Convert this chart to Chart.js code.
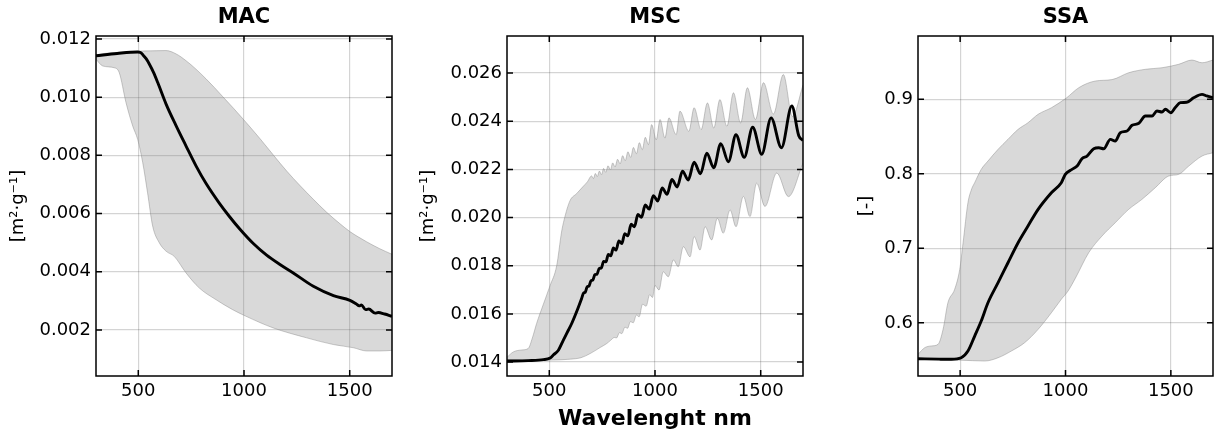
<!DOCTYPE html>
<html>
<head>
<meta charset="utf-8">
<script src="https://cdn.jsdelivr.net/npm/chart.js@4.4.0/dist/chart.umd.min.js"></script>
<style>
    html, body { margin: 0; padding: 0; background: #fff; }
    #wrap { position: relative; width: 1222px; height: 434px; overflow: hidden; }
    canvas { position: absolute; top: 0; }
</style>
</head>
<body>
<div id="wrap">
    <canvas id="mac"></canvas>
    <canvas id="msc"></canvas>
    <canvas id="ssa"></canvas>
</div>
<script>
const xTicks = [500, 1000, 1500];

// MAC
const macYTicks = [0.002, 0.004, 0.006, 0.008, 0.010, 0.012];
const macMeanWl = [300, 400, 497, 510, 521, 537, 552, 572, 592, 631, 678, 726, 773, 820, 883, 931, 981, 1044, 1107, 1170, 1233, 1328, 1423, 1501, 1530, 1545, 1555, 1575, 1590, 1620, 1635, 1665, 1700];
const macMean = [0.01142, 0.0115, 0.01155, 0.01153, 0.01146, 0.01132, 0.01114, 0.01085, 0.0105, 0.00977, 0.00903, 0.00832, 0.00764, 0.00704, 0.00636, 0.0059, 0.00546, 0.00497, 0.00457, 0.00425, 0.00396, 0.0035, 0.00318, 0.00302, 0.0029, 0.00283, 0.00286, 0.0027, 0.00272, 0.00258, 0.0026, 0.00255, 0.00247];
const macUpWl = [300, 340, 400, 460, 500, 560, 631, 680, 726, 773, 820, 860, 899, 950, 1010, 1076, 1140, 1202, 1265, 1328, 1390, 1454, 1501, 1540, 1580, 1640, 1700];
const macUp = [0.01145, 0.0115, 0.01153, 0.01156, 0.01158, 0.01159, 0.0116, 0.01148, 0.01125, 0.01096, 0.01063, 0.01033, 0.01002, 0.00962, 0.00913, 0.00857, 0.008, 0.00746, 0.00696, 0.00649, 0.00605, 0.00565, 0.00538, 0.0052, 0.00503, 0.0048, 0.0046];
const macLowWl = [300, 332, 386, 410, 442, 474, 497, 521, 544, 568, 599, 631, 670, 726, 789, 868, 946, 1010, 1139, 1297, 1423, 1518, 1580, 1643, 1700];
const macLow = [0.0113, 0.01107, 0.01101, 0.01084, 0.00981, 0.009, 0.00855, 0.00775, 0.00671, 0.00557, 0.005, 0.00471, 0.00453, 0.00396, 0.00344, 0.00304, 0.0027, 0.00247, 0.00207, 0.00173, 0.0015, 0.00139, 0.00128, 0.00128, 0.0013];

// MSC
const mscYTicks = [0.014, 0.016, 0.018, 0.020, 0.022, 0.024, 0.026];
const mscMeanWl = [300, 400, 472, 504, 520, 543, 566, 590, 606, 632, 653, 662, 670, 679, 688, 697, 706, 716, 726, 736, 746, 757, 768, 779, 791, 803, 816, 829, 843, 857, 872, 887, 903, 919, 936, 954, 973, 992, 1013, 1034, 1057, 1080, 1105, 1130, 1157, 1185, 1215, 1245, 1278, 1311, 1347, 1383, 1422, 1462, 1505, 1549, 1598, 1647, 1680, 1700];
const mscMean = [0.01404, 0.01406, 0.0141, 0.01417, 0.0143, 0.01449, 0.0149, 0.01532, 0.0156, 0.01615, 0.01664, 0.01686, 0.0169, 0.01712, 0.01716, 0.01737, 0.01741, 0.01763, 0.01765, 0.01789, 0.0179, 0.01818, 0.01816, 0.01847, 0.01841, 0.01874, 0.01865, 0.01903, 0.01892, 0.01933, 0.01924, 0.01972, 0.01962, 0.02013, 0.02001, 0.02052, 0.02035, 0.02091, 0.02069, 0.02123, 0.02097, 0.02158, 0.02127, 0.02193, 0.02156, 0.0223, 0.02182, 0.02267, 0.02207, 0.02307, 0.02232, 0.02344, 0.0225, 0.02375, 0.02263, 0.02414, 0.0229, 0.02463, 0.0234, 0.0232];
const mscUpWl = [300, 330, 370, 400, 420, 440, 472, 503, 535, 558, 570, 598, 630, 661, 680, 700, 709, 718, 727, 737, 747, 757, 767, 778, 789, 800, 811, 823, 835, 847, 859, 872, 885, 898, 912, 926, 940, 954, 969, 984, 1006, 1024, 1047, 1066, 1100, 1118, 1160, 1185, 1218, 1248, 1278, 1307, 1340, 1371, 1405, 1437, 1475, 1513, 1560, 1607, 1650, 1700];
const mscUp = [0.0142, 0.01442, 0.0145, 0.01456, 0.015, 0.0156, 0.0164, 0.01716, 0.018, 0.0194, 0.0199, 0.0207, 0.021, 0.0213, 0.02148, 0.02173, 0.02162, 0.02183, 0.0217, 0.02193, 0.02178, 0.02204, 0.02188, 0.02215, 0.02198, 0.02227, 0.0221, 0.02242, 0.02223, 0.02257, 0.02236, 0.02273, 0.0225, 0.02291, 0.02265, 0.02311, 0.02282, 0.02333, 0.02303, 0.02386, 0.02323, 0.02407, 0.0233, 0.02414, 0.02344, 0.02442, 0.02358, 0.02456, 0.02365, 0.02476, 0.02372, 0.0249, 0.02379, 0.02518, 0.02393, 0.02539, 0.02407, 0.0256, 0.0243, 0.02594, 0.0242, 0.0255];
const mscLowWl = [300, 400, 500, 600, 650, 693, 740, 772, 790, 808, 818, 832, 843, 858, 870, 884, 897, 912, 925, 941, 958, 975, 988, 1000, 1019, 1039, 1063, 1087, 1110, 1134, 1166, 1185, 1213, 1237, 1268, 1295, 1323, 1355, 1383, 1418, 1449, 1481, 1520, 1576, 1631, 1700];
const mscLow = [0.0141, 0.0141, 0.01408, 0.01412, 0.01418, 0.01435, 0.0146, 0.01477, 0.0149, 0.01502, 0.015, 0.01522, 0.01518, 0.01545, 0.0154, 0.01568, 0.01563, 0.01595, 0.01588, 0.0164, 0.01632, 0.0168, 0.01668, 0.01718, 0.01699, 0.01775, 0.01754, 0.01824, 0.01796, 0.01879, 0.01837, 0.01921, 0.01865, 0.01962, 0.01907, 0.01997, 0.01935, 0.02032, 0.01962, 0.02088, 0.02004, 0.02143, 0.02046, 0.02185, 0.02087, 0.02226];

// SSA
const ssaYTicks = [0.6, 0.7, 0.8, 0.9];
const ssaMeanWl = [300, 400, 458, 505, 537, 569, 600, 632, 680, 727, 775, 822, 870, 933, 980, 999, 1031, 1055, 1078, 1102, 1134, 1158, 1181, 1213, 1236, 1260, 1292, 1316, 1348, 1379, 1411, 1434, 1458, 1474, 1500, 1521, 1545, 1575, 1608, 1648, 1670, 1700];
const ssaMean = [0.5519, 0.5513, 0.5511, 0.5532, 0.5622, 0.5823, 0.6025, 0.627, 0.6539, 0.6807, 0.7076, 0.73, 0.7524, 0.7747, 0.7881, 0.7993, 0.806, 0.8105, 0.8203, 0.8239, 0.8337, 0.835, 0.8337, 0.8463, 0.844, 0.8552, 0.8575, 0.8651, 0.8678, 0.8776, 0.8776, 0.8843, 0.883, 0.8866, 0.882, 0.889, 0.8955, 0.896, 0.9021, 0.9067, 0.9045, 0.9021];
const ssaUpWl = [300, 332, 363, 395, 419, 442, 474, 498, 514, 537, 555, 569, 600, 632, 680, 727, 775, 822, 870, 933, 1005, 1063, 1142, 1221, 1300, 1379, 1458, 1537, 1600, 1648, 1700];
const ssaUp = [0.5578, 0.5667, 0.569, 0.5712, 0.5913, 0.627, 0.645, 0.6718, 0.7076, 0.7612, 0.78, 0.7881, 0.806, 0.8172, 0.8329, 0.8463, 0.8597, 0.8686, 0.8799, 0.8887, 0.902, 0.9156, 0.9246, 0.9265, 0.9357, 0.9403, 0.9424, 0.947, 0.9527, 0.9491, 0.9527];
const ssaLowWl = [300, 400, 500, 617, 680, 743, 806, 870, 933, 980, 1012, 1047, 1110, 1173, 1236, 1300, 1363, 1426, 1490, 1537, 1585, 1648, 1700];
const ssaLow = [0.5511, 0.5505, 0.55, 0.5488, 0.5532, 0.5622, 0.5734, 0.5913, 0.6136, 0.6316, 0.6427, 0.66, 0.6941, 0.7165, 0.7344, 0.7524, 0.7658, 0.7814, 0.7971, 0.7993, 0.8105, 0.8239, 0.8283];

const FONT = "'DejaVu Sans', sans-serif";
const GRID = "rgba(0, 0, 0, 0.17)";
const BAND_FILL = "rgba(128, 128, 128, 0.3)";
const BAND_EDGE = "rgba(128, 128, 128, 0.42)";

function pairs(xs, ys) {
    return xs.map((x, i) => ({ x: x, y: ys[i] }));
}

function framePlugin(p) {
    return {
        id: "frame",
        afterDraw(chart) {
            const ctx = chart.ctx;
            const a = chart.chartArea;
            const x = chart.scales.x;
            const y = chart.scales.y;
            ctx.save();
            ctx.strokeStyle = "#000";
            ctx.lineWidth = 1.5;
            ctx.strokeRect(a.left, a.top, a.right - a.left, a.bottom - a.top);

            // inward ticks on all four sides
            ctx.beginPath();
            x.ticks.forEach(t => {
                const px = x.getPixelForValue(t.value);
                ctx.moveTo(px, a.bottom); ctx.lineTo(px, a.bottom - 6);
                ctx.moveTo(px, a.top); ctx.lineTo(px, a.top + 6);
            });
            y.ticks.forEach(t => {
                const py = y.getPixelForValue(t.value);
                ctx.moveTo(a.left, py); ctx.lineTo(a.left + 6, py);
                ctx.moveTo(a.right, py); ctx.lineTo(a.right - 6, py);
            });
            ctx.stroke();

            ctx.fillStyle = "#000";
            ctx.textAlign = "center";
            ctx.textBaseline = "alphabetic";
            ctx.font = "bold 21px " + FONT;
            ctx.fillText(p.title, (a.left + a.right) / 2, 23);

            if (p.xLabel) {
                ctx.font = "bold 22px " + FONT;
                ctx.fillText(p.xLabel, (a.left + a.right) / 2, 425);
            }

            ctx.translate(p.yLabelX, (a.top + a.bottom) / 2);
            ctx.rotate(-Math.PI / 2);
            ctx.font = "18px " + FONT;
            ctx.textBaseline = "middle";
            ctx.fillText(p.yLabel, 0, 0);
            ctx.restore();
        }
    };
}

function makePanel(p) {
    const canvas = document.getElementById(p.id);
    canvas.width = p.width;
    canvas.height = 434;
    canvas.style.left = p.left + "px";

    new Chart(canvas.getContext("2d"), {
        type: "line",
        data: {
            datasets: [
                {
                    data: pairs(p.meanX, p.mean),
                    borderColor: "#000",
                    borderWidth: 2.9,
                    pointRadius: 0,
                    fill: false,
                    cubicInterpolationMode: "monotone",
                },
                {
                    data: pairs(p.lowX, p.low),
                    borderColor: BAND_EDGE,
                    borderWidth: 1,
                    pointRadius: 0,
                    fill: false,
                    cubicInterpolationMode: "monotone",
                },
                {
                    data: pairs(p.upX, p.up),
                    borderColor: BAND_EDGE,
                    backgroundColor: BAND_FILL,
                    borderWidth: 1,
                    pointRadius: 0,
                    fill: "-1",
                    cubicInterpolationMode: "monotone",
                }
            ]
        },
        options: {
            responsive: false,
            animation: false,
            events: [],
            layout: { padding: { left: 0, right: p.padRight, top: 36, bottom: 0 } },
            plugins: {
                legend: { display: false },
                tooltip: { enabled: false },
            },
            scales: {
                x: {
                    type: "linear",
                    min: 300,
                    max: 1700,
                    afterBuildTicks: s => { s.ticks = xTicks.map(v => ({ value: v })); },
                    afterFit: s => { s.height = 58; },
                    grid: { color: GRID, lineWidth: 1.2, drawTicks: false },
                    border: { display: false },
                    ticks: {
                        color: "#000",
                        font: { family: FONT, size: 18 },
                        padding: 5,
                        maxRotation: 0,
                        callback: v => String(v),
                    }
                },
                y: {
                    type: "linear",
                    min: p.yMin,
                    max: p.yMax,
                    afterBuildTicks: s => { s.ticks = p.yTicks.map(v => ({ value: v })); },
                    afterFit: s => { s.width = p.yWidth; },
                    grid: { color: GRID, lineWidth: 1.2, drawTicks: false },
                    border: { display: false },
                    ticks: {
                        color: "#000",
                        font: { family: FONT, size: 18 },
                        padding: 5,
                        callback: v => v.toFixed(p.decimals),
                    }
                }
            }
        },
        plugins: [framePlugin(p)]
    });
}

makePanel({
    id: "mac", left: 0, width: 410, yWidth: 96, padRight: 18,
    yMin: 0.00042, yMax: 0.0121, yTicks: macYTicks, decimals: 3,
    meanX: macMeanWl, mean: macMean, upX: macUpWl, up: macUp, lowX: macLowWl, low: macLow,
    title: "MAC", yLabel: "[m²·g⁻¹]", yLabelX: 18,
});

makePanel({
    id: "msc", left: 410, width: 400, yWidth: 97, padRight: 7,
    yMin: 0.01342, yMax: 0.02754, yTicks: mscYTicks, decimals: 3,
    meanX: mscMeanWl, mean: mscMean, upX: mscUpWl, up: mscUp, lowX: mscLowWl, low: mscLow,
    title: "MSC", yLabel: "[m²·g⁻¹]", yLabelX: 18, xLabel: "Wavelenght nm",
});

makePanel({
    id: "ssa", left: 812, width: 410, yWidth: 106, padRight: 9,
    yMin: 0.5287, yMax: 0.985, yTicks: ssaYTicks, decimals: 1,
    meanX: ssaMeanWl, mean: ssaMean, upX: ssaUpWl, up: ssaUp, lowX: ssaLowWl, low: ssaLow,
    title: "SSA", yLabel: "[-]", yLabelX: 54,
});
</script>
</body>
</html>
